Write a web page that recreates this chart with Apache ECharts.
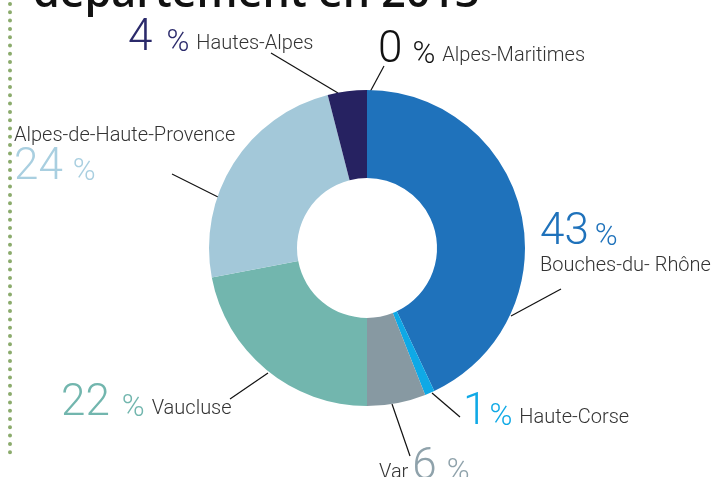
<!DOCTYPE html>
<html>
<head>
<meta charset="utf-8">
<script src="https://cdn.jsdelivr.net/npm/echarts@6/dist/echarts.min.js"></script>
<style>
  html, body { margin: 0; padding: 0; background: #fff; }
  #main { width: 715px; height: 477px; }
</style>
</head>
<body>
<div id="main"></div>
<script>
// parts par département (%)
var departements = ['Bouches-du- Rhône', 'Haute-Corse', 'Var', 'Vaucluse', 'Alpes-de-Haute-Provence', 'Hautes-Alpes', 'Alpes-Maritimes'];
var parts = [43, 1, 6, 22, 24, 4, 0];

var sliceColors = ['#1f72bb', '#0fa9e6', '#8799a2', '#72b6ae', '#a3c8d9', '#262261', '#1a1a1a'];
var numColors   = ['#1f72bb', '#0fa9e6', '#8fa2ab', '#72b6ae', '#a9cfe0', '#2b2a6b', '#111111'];

// où poser chaque étiquette (coin haut-gauche) et ses traits de rappel
var labelPos = [[540, 213], [463, 393], [379, 448], [61, 384], [14, 123], [128, 19], [378, 31]];
var pctGap = [6, 2, 10, 12, 10, 14, 10];
var leaders = [
  [[561, 289], [511, 316]],
  [[460, 417], [432, 393]],
  [[410, 456], [392, 404]],
  [[230, 399], [268, 373]],
  [[172, 174], [218, 197]],
  [[271, 53], [338, 93]],
  [[384, 66], [370, 92]]
];

var chart = echarts.init(document.getElementById('main'));

var nameFont = { fontFamily: 'Roboto', fontWeight: 300, fontSize: 20, color: '#333' };
var rich = {
  name: Object.assign({ padding: [9, 0, 0, 7] }, nameFont),
  nameV: Object.assign({ padding: [9, 4, 0, 0] }, nameFont),
  name2: Object.assign({ lineHeight: 25 }, nameFont)
};
numColors.forEach(function (c, i) {
  rich['n' + i] = { fontFamily: 'Roboto', fontWeight: 300, fontSize: 44, lineHeight: 40, color: c };
  rich['p' + i] = { fontFamily: 'Roboto', fontWeight: 300, fontSize: 31, lineHeight: 40, color: c, padding: [8, 0, 0, pctGap[i]] };
});

function fmt(p) {
  var i = p.dataIndex, n = '{n' + i + '|' + p.value + '}', pc = '{p' + i + '|%}';
  if (i === 0) return n + pc + '\n{name2|' + p.name + '}';
  if (i === 4) return '{name2|' + p.name + '}\n' + n + pc;
  if (i === 2) return '{nameV|' + p.name + '}' + n + pc;
  return n + pc + '{name|' + p.name + '}';
}

var option = {
  animation: false,
  title: {
    text: 'département en 2013',
    left: 28,
    top: -32,
    textStyle: { fontFamily: 'Open Sans', fontSize: 43, fontWeight: 600, color: '#111' }
  },
  graphic: [{
    type: 'line',
    shape: { x1: 10, y1: 4, x2: 10, y2: 458 },
    style: { stroke: '#8bab6c', lineWidth: 4, lineDash: [0, 8.3], lineCap: 'round' }
  }],
  series: [{
    type: 'pie',
    center: [367, 248],
    radius: [70, 158],
    startAngle: 90,
    clockwise: true,
    avoidLabelOverlap: false,
    itemStyle: { borderWidth: 0 },
    label: {
      show: true,
      position: 'outside',
      formatter: fmt,
      rich: rich
    },
    labelLine: {
      show: true,
      lineStyle: { color: '#111', width: 1.2 }
    },
    labelLayout: function (p) {
      var pos = labelPos[p.dataIndex], ln = leaders[p.dataIndex];
      return {
        x: pos[0], y: pos[1], align: 'left', verticalAlign: 'top',
        labelLinePoints: [ln[1], ln[0], ln[0]]
      };
    },
    emphasis: { disabled: true },
    data: departements.map(function (d, i) {
      return { name: d, value: parts[i], itemStyle: { color: sliceColors[i] } };
    })
  }]
};

chart.setOption(option);
</script>
</body>
</html>
